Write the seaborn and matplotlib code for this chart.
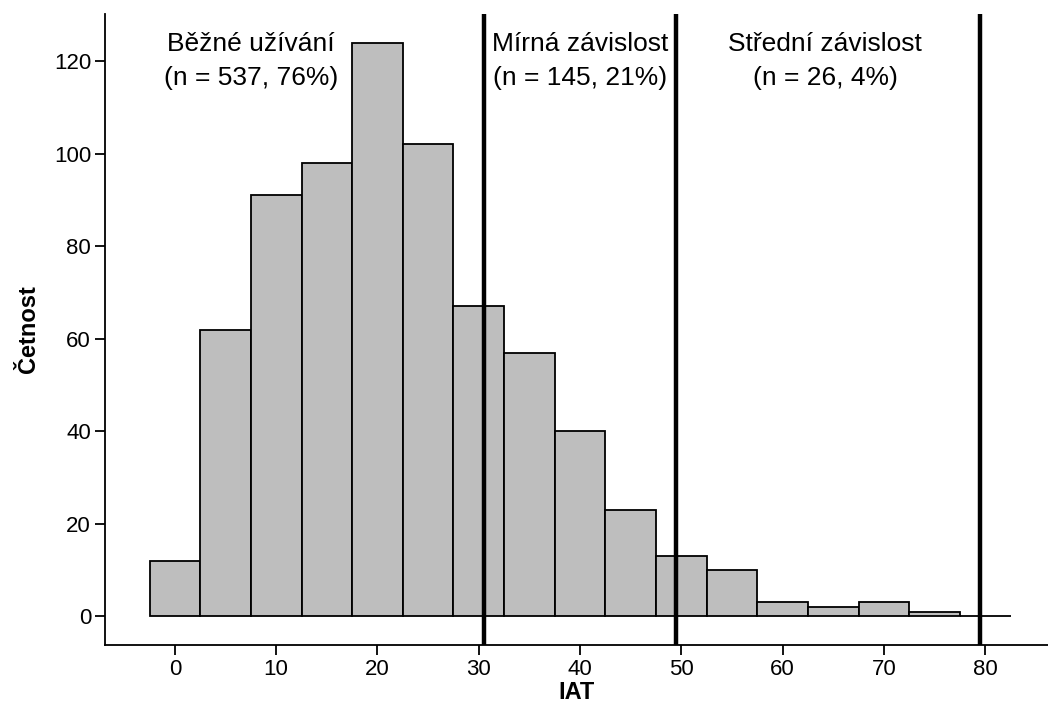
import numpy as np
import pandas as pd
import matplotlib
matplotlib.use('Agg')
import matplotlib.pyplot as plt
import seaborn as sns

# IAT histogram, bin width 5 centred on multiples of 5
bin_centers = [0, 5, 10, 15, 20, 25, 30, 35, 40, 45, 50, 55, 60, 65, 70, 75, 80]
counts = [12, 62, 91, 98, 124, 102, 67, 57, 40, 23, 13, 10, 3, 2, 3, 1, 0]
cutoffs = [30.5, 49.5, 79.5]
group_labels = ['Běžné užívání\n(n = 537, 76%)',
                'Mírná závislost\n(n = 145, 21%)',
                'Střední závislost\n(n = 26, 4%)']
label_x = [7.5, 40, 64.2]
x_ticks = [0, 10, 20, 30, 40, 50, 60, 70, 80]
y_ticks = [0, 20, 40, 60, 80, 100, 120]

df = pd.DataFrame({'IAT': bin_centers, 'n': counts})

sns.set_style('ticks')
plt.rcParams['font.family'] = ['Liberation Sans', 'DejaVu Sans']

fig = plt.figure(figsize=(10.48, 7.22), dpi=100)
ax = fig.add_axes([0.1002, 0.1066, 0.8998, 0.874])

sns.histplot(data=df, x='IAT', weights='n', binwidth=5, binrange=(-2.5, 82.5),
             ax=ax, color='#bebebe', alpha=1, edgecolor='black', linewidth=1.3)

for c in cutoffs:
    ax.axvline(c, color='black', linewidth=3.2, zorder=5)

for x, lab in zip(label_x, group_labels):
    ax.text(x, 120, lab, ha='center', va='center', fontsize=19,
            linespacing=1.55, color='black')

ax.set_xlim(-6.9, 86.2)
ax.set_ylim(-6.2, 130.2)
ax.set_xticks(x_ticks)
ax.set_yticks(y_ticks)
ax.tick_params(labelsize=16, length=7, width=1.3, colors='black', pad=3)
for s in ['left', 'bottom']:
    ax.spines[s].set_linewidth(1.3)
    ax.spines[s].set_color('black')
sns.despine(ax=ax)

ax.set_xlabel('IAT', fontsize=17, fontweight='bold', labelpad=1, color='black')
ax.set_ylabel('Četnost', fontsize=17, fontweight='bold', labelpad=10, color='black')

fig.savefig('out.png', dpi=100)
